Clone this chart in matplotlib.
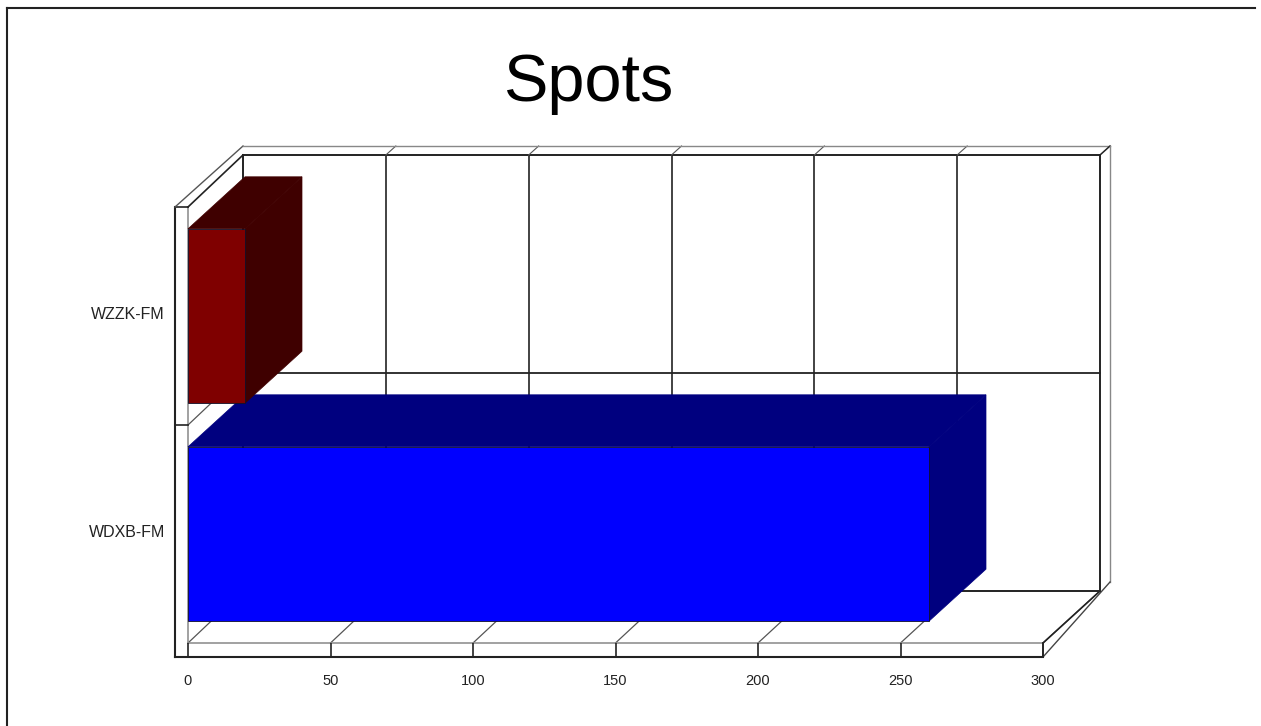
import matplotlib
matplotlib.use('Agg')
import matplotlib.pyplot as plt
from matplotlib.lines import Line2D
from matplotlib.patches import Polygon
from matplotlib.transforms import ScaledTranslation

stations = ['WDXB-FM', 'WZZK-FM']
spots = [260, 20]
front_colors = ['#0000ff', '#7f0000']
side_colors = ['#00007f', '#3f0000']
x_ticks = [0, 50, 100, 150, 200, 250, 300]

W, H = 1261, 726
DPI = 100
px = 72 / DPI

fig = plt.figure(figsize=(W / DPI, H / DPI), dpi=DPI)
plt.rcParams['font.family'] = ['Liberation Sans', 'DejaVu Sans']

# plot area = the front plane of the fake 3d box
left, right, bottom, top = 188, 1043, 643, 207
ax = fig.add_axes([left / W, 1 - bottom / H, (right - left) / W, (bottom - top) / H])
ax.set_xlim(0, 300)
ax.set_ylim(-0.5, len(stations) - 0.5)
ax.patch.set_visible(False)
for s in ax.spines.values():
    s.set_visible(False)

# depth of the box in data units
dx = 57 / 2.85
dy = 52 / 218
# outer frame offset
ox = 10 / 2.85
oy = 9 / 218
ox0 = -13 / 2.85
oy0 = -14 / 218
line = '#222222'


def seg(xs, ys, lw=1.3, color=line, z=1):
    ax.plot(xs, ys, color=color, lw=lw, clip_on=False, zorder=z, solid_capstyle='projecting')


def back_x(v):
    # back wall sits a touch left of the bar depth in the original
    return v * 857 / 855 + 55 / 2.85


x0, x1 = 0, 300
y0, y1 = -0.5, len(stations) - 0.5

# back wall, grid
seg([back_x(x0), back_x(x1)], [y1 + dy, y1 + dy], 1.4)
seg([back_x(x0), back_x(x1)], [y0 + dy, y0 + dy], 1.4)
seg([back_x(x0), back_x(x0)], [y0 + dy, y1 + dy], 1.4)
seg([back_x(x1), back_x(x1)], [y0 + dy, y1 + dy], 1.4)
seg([back_x(x0), back_x(x1)], [0.5 + dy, 0.5 + dy], 1.3)
for v in x_ticks[1:-1]:
    seg([back_x(v), back_x(v)], [y0 + dy, y1 + dy], 1.2)
    seg([back_x(v), back_x(v) + ox], [y1 + dy, y1 + dy + oy], 0.8, '#555555')
for v in x_ticks:
    seg([v, back_x(v)], [y0, y0 + dy], 0.9, '#555555')
seg([x0, x1], [y0, y0], 1.1, '#888888')
seg([x0, x0], [y0, y1], 1.1, '#888888')
seg([x0, back_x(x0)], [y1, y1 + dy], 1.2)
seg([x0, back_x(x0)], [0.5, 0.5 + dy], 0.9, '#555555')

# left and bottom wall, outer edges
seg([x0 + ox0, x0 + ox0], [y0 + oy0, y1], 1.5)
seg([x0 + ox0, x1], [y0 + oy0, y0 + oy0], 1.5)
seg([x0 + ox0, x0], [y1, y1], 1.2)
seg([x0 + ox0, x0], [0.5, 0.5], 1.2)
seg([x0 + ox0, back_x(x0)], [y1, y1 + dy + oy], 1.0, '#555555')
seg([back_x(x0), back_x(x1) + ox], [y1 + dy + oy, y1 + dy + oy], 1.0, '#888888')
seg([back_x(x1), back_x(x1) + ox], [y1 + dy, y1 + dy + oy], 1.1)
seg([back_x(x1) + ox, back_x(x1) + ox], [y0 + dy + oy, y1 + dy + oy], 1.0, '#888888')
seg([x1, back_x(x1) + ox], [y0 + oy0, y0 + dy + oy], 1.0, '#444444')
seg([x1, back_x(x1)], [y0, y0 + dy], 1.2)
seg([x1, x1], [y0 + oy0, y0], 1.2)

# bars, blue first so the red one sits on top of it
bar_h = 0.8
for i, (val, fc, sc) in enumerate(zip(spots, front_colors, side_colors)):
    lo, hi = i - bar_h / 2, i + bar_h / 2
    ax.add_patch(Polygon([(0, hi), (val, hi), (val + dx, hi + dy), (dx, hi + dy)],
                         facecolor=sc, edgecolor=sc, lw=0.5, clip_on=False, zorder=2 + i))
    ax.add_patch(Polygon([(val, lo), (val + dx, lo + dy), (val + dx, hi + dy), (val, hi)],
                         facecolor=sc, edgecolor=sc, lw=0.5, clip_on=False, zorder=2 + i))
    ax.barh(i, val, height=bar_h, color=fc, edgecolor='#10102a', lw=0.6, clip_on=False, zorder=2.5 + i)

ax.set_xticks(x_ticks)
ax.set_yticks(range(len(stations)), stations)
ax.tick_params(axis='x', length=14 * px, width=1.2, color=line, pad=17 * px, labelsize=10.5, labelcolor='#222222')
ax.tick_params(axis='y', length=0, pad=23 * px, labelsize=11.5, labelcolor='#222222')
for t in ax.get_xticklines():
    t.set_clip_on(False)

# y labels sit a little above the band centre
lift = ScaledTranslation(0, 3 / DPI, fig.dpi_scale_trans)
for lab in ax.get_yticklabels():
    lab.set_transform(lab.get_transform() + lift)

# page border, top and left only
fig.add_artist(Line2D([7 / W, 7 / W], [0, 1 - 8 / H], color='#222222', lw=1.5))
fig.add_artist(Line2D([7 / W, 1255 / W], [1 - 8 / H, 1 - 8 / H], color='#222222', lw=1.5))

fig.text(588 / W, 1 - 84 / H, 'Spots', fontsize=48, ha='center', va='center', color='black')

fig.savefig('out.png', dpi=DPI)
